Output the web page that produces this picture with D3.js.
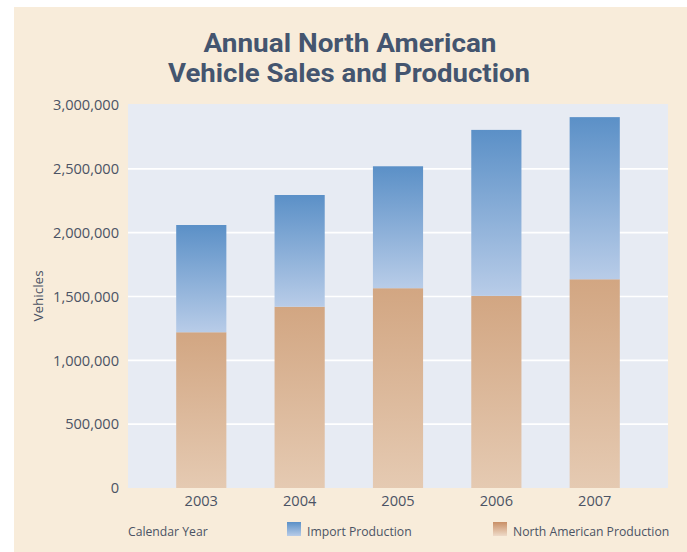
<!DOCTYPE html>
<html>
<head>
<meta charset="utf-8">
<script src="https://cdn.jsdelivr.net/npm/d3@7"></script>
<style>
  html, body { margin: 0; padding: 0; background: #ffffff; }
  svg { display: block; }
</style>
</head>
<body>
<svg id="chart" width="687" height="552"></svg>
<script>
// ---- data ----
const years = ["2003", "2004", "2005", "2006", "2007"];
const northAmerican = [1220000, 1420000, 1565000, 1505000, 1635000];
const imports = [840000, 875000, 955000, 1300000, 1270000];
const yTicks = [0, 500000, 1000000, 1500000, 2000000, 2500000, 3000000];
const titleLines = ["Annual North American", "Vehicle Sales and Production"];
const seriesNames = ["Import Production", "North American Production"];

// ---- layout ----
const W = 687, H = 552;
const plot = { left: 128, right: 668, top: 105, bottom: 488 };
const bodyFont = "'Open Sans', 'Noto Sans', sans-serif";

const svg = d3.select("#chart").style("font-family", bodyFont);

// defs: gradients
const defs = svg.append("defs");
function grad(id, top, bottom) {
  const g = defs.append("linearGradient").attr("id", id)
    .attr("x1", 0).attr("y1", 0).attr("x2", 0).attr("y2", 1);
  g.append("stop").attr("offset", "0%").attr("stop-color", top);
  g.append("stop").attr("offset", "100%").attr("stop-color", bottom);
}
grad("gBlue", "#5b90c7", "#b8cce8");
grad("gOrange", "#d2a682", "#e5cab2");
grad("gBlueLeg", "#5b90c7", "#b8cce8");
grad("gOrangeLeg", "#c98f66", "#eedac8");

// backgrounds
svg.append("rect").attr("x", 14).attr("y", 7).attr("width", W - 14).attr("height", H - 7)
  .attr("fill", "#f8ecda");
svg.append("rect").attr("x", plot.left).attr("y", plot.top - 1)
  .attr("width", plot.right - plot.left).attr("height", plot.bottom - plot.top + 1)
  .attr("fill", "#e7ebf3");

// scales
const x = d3.scaleBand().domain(years).range([plot.left, plot.right])
  .paddingInner(0.49).paddingOuter(0.49);
const y = d3.scaleLinear().domain([0, 3000000]).range([plot.bottom, plot.top]);

// gridlines
svg.append("g").selectAll("line")
  .data(yTicks.filter(t => t > 0 && t < 3000000))
  .join("line")
  .attr("x1", plot.left).attr("x2", plot.right)
  .attr("y1", d => y(d)).attr("y2", d => y(d))
  .attr("stroke", "#ffffff").attr("stroke-width", 1.6);

// stacked bars
const rows = years.map((yr, i) => ({ year: yr, na: northAmerican[i], imp: imports[i] }));
const bars = svg.append("g");
bars.selectAll("rect.na").data(rows).join("rect").attr("class", "na")
  .attr("x", d => x(d.year)).attr("width", x.bandwidth())
  .attr("y", d => y(d.na)).attr("height", d => y(0) - y(d.na))
  .attr("fill", "url(#gOrange)");
bars.selectAll("rect.imp").data(rows).join("rect").attr("class", "imp")
  .attr("x", d => x(d.year)).attr("width", x.bandwidth())
  .attr("y", d => y(d.na + d.imp)).attr("height", d => y(d.na) - y(d.na + d.imp))
  .attr("fill", "url(#gBlue)");

// y axis
const fmt = d3.format(",");
const yAxis = d3.axisLeft(y).tickValues(yTicks).tickFormat(fmt).tickSize(0).tickPadding(9);
const yg = svg.append("g").attr("transform", `translate(${plot.left},0)`).call(yAxis);
yg.select(".domain").remove();
yg.attr("font-family", null).attr("font-size", null);
yg.selectAll("text").style("font-family", bodyFont).style("font-size", "14.6px")
  .attr("fill", "#4b5364");

// x axis
const xAxis = d3.axisBottom(x).tickSize(0).tickPadding(8);
const xg = svg.append("g").attr("transform", `translate(0,${plot.bottom})`).call(xAxis);
xg.select(".domain").remove();
xg.attr("font-family", null).attr("font-size", null);
xg.selectAll("text").style("font-family", bodyFont).style("font-size", "14.6px")
  .attr("fill", "#4b5364");

// y axis title
svg.append("text").attr("transform", "translate(43,296) rotate(-90)")
  .attr("text-anchor", "middle").style("font-size", "13.5px").attr("fill", "#4b5364")
  .text("Vehicles");

// chart title (two separate lines)
const titleY = [51.5, 82];
const titleW = [293, 362];
const titleX = [350, 349];
svg.append("g").selectAll("text").data(titleLines).join("text")
  .attr("x", (d, i) => titleX[i]).attr("y", (d, i) => titleY[i])
  .attr("text-anchor", "middle")
  .style("font-family", "Roboto, 'Open Sans', sans-serif")
  .style("font-weight", 700).style("font-size", "25.5px")
  .attr("fill", "#44556f")
  .attr("textLength", (d, i) => titleW[i]).attr("lengthAdjust", "spacingAndGlyphs")
  .text(d => d);

// legend
svg.append("text").attr("x", 128).attr("y", 535.5).style("font-size", "12.2px")
  .attr("fill", "#4b5364").text("Calendar Year");
const legendItems = [
  { name: seriesNames[0], fill: "url(#gBlueLeg)", x: 287 },
  { name: seriesNames[1], fill: "url(#gOrangeLeg)", x: 493 }
];
const lg = svg.append("g").selectAll("g").data(legendItems).join("g")
  .attr("transform", d => `translate(${d.x},522)`);
lg.append("rect").attr("width", 14).attr("height", 14).attr("fill", d => d.fill);
lg.append("text").attr("x", 20).attr("y", 13.5).style("font-size", "12.2px")
  .attr("fill", "#4b5364").text(d => d.name);
</script>
</body>
</html>
